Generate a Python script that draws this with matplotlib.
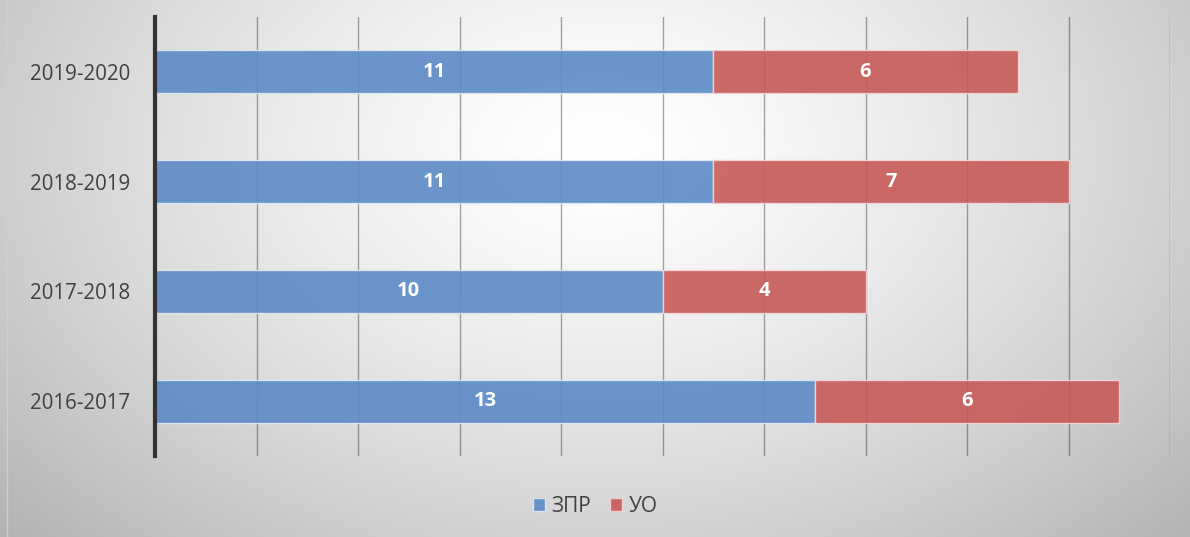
import numpy as np
import matplotlib.pyplot as plt

plt.rcParams['font.family'] = ['Open Sans', 'DejaVu Sans']

years = ['2016-2017', '2017-2018', '2018-2019', '2019-2020']
zpr = [13, 10, 11, 11]
uo = [6, 4, 7, 6]

blue = '#5b8ac6'
red = '#c75a58'

W, H = 1190, 537
fig = plt.figure(figsize=(W / 100, H / 100), dpi=100)

# radial gradient background
bg = fig.add_axes([0, 0, 1, 1], zorder=-2)
yy, xx = np.mgrid[0:H, 0:W]
r = np.sqrt(((xx - 600) / 700.0) ** 2 + ((yy - 150) / 480.0) ** 2)
shade = 1.0 - 0.24 * np.clip(r, 0, 1.2) ** 1.4
bg.imshow(np.dstack([shade] * 3), aspect='auto', extent=[0, 1, 0, 1], vmin=0, vmax=1)
bg.axvline(7 / W, color='#cfcfcf', lw=1)
bg.set_xlim(0, 1)
bg.set_ylim(0, 1)
bg.axis('off')

ax = fig.add_axes([155 / W, (H - 456) / H, (1170 - 155) / W, (456 - 17) / H])
ax.patch.set_alpha(0)

y = np.arange(len(years))
b1 = ax.barh(y, zpr, height=0.39, color=blue, alpha=0.9, edgecolor='#dfe8f3',
             linewidth=1, label='ЗПР', zorder=3)
b2 = ax.barh(y, uo, left=zpr, height=0.39, color=red, alpha=0.9, edgecolor='#f0d6d5',
             linewidth=1, label='УО', zorder=3)
ax.bar_label(b1, label_type='center', color='white', fontsize=14.5, fontweight='bold')
ax.bar_label(b2, label_type='center', color='white', fontsize=14.5, fontweight='bold')

ax.set_xlim(0, 20)
ax.set_ylim(-0.5, 3.5)
ax.set_xticks(np.arange(0, 21, 2))
ax.set_xticklabels([])
ax.tick_params(axis='x', length=0)
ax.grid(axis='x', color='black', alpha=0.35, lw=1, zorder=1)
ax.set_yticks(y)
ax.set_yticklabels(years, fontsize=14.8, color='#404040')
ax.tick_params(axis='y', length=0, pad=18)
for s in ['top', 'right', 'bottom']:
    ax.spines[s].set_visible(False)
ax.spines['left'].set_linewidth(3)
ax.spines['left'].set_color('#333333')
ax.spines['left'].set_zorder(4)

fig.legend(handles=[b1, b2], loc='center', bbox_to_anchor=(595 / W, 1 - 506 / H),
           ncol=2, frameon=False, fontsize=15, handlelength=0.6, handleheight=0.6,
           columnspacing=0.9, handletextpad=0.3, labelcolor='#404040')

fig.savefig('out.png', dpi=100)
